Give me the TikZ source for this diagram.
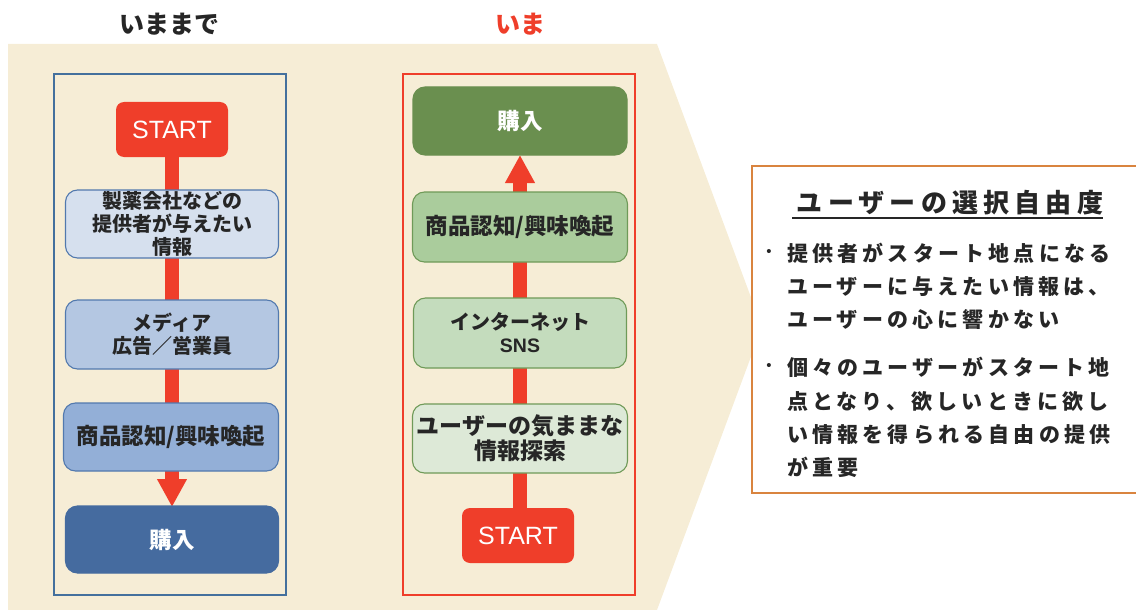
\documentclass[tikz,border=0pt]{standalone}
\usepackage{fontspec}
\setmainfont{Noto Sans CJK JP}
\newfontfamily\jpls{Noto Sans CJK JP}[LetterSpace=20]
\newfontfamily\lat{Liberation Sans}
\usetikzlibrary{arrows.meta}
\definecolor{cred}{HTML}{EF3E2A}
\definecolor{beige}{HTML}{F6EDD6}
\definecolor{frameblue}{HTML}{44709D}
\definecolor{bstroke}{HTML}{5279AE}
\definecolor{bA}{HTML}{D6E0EE}
\definecolor{bB}{HTML}{B4C7E2}
\definecolor{bC}{HTML}{93AFD7}
\definecolor{bD}{HTML}{456B9F}
\definecolor{gstroke}{HTML}{6F9A58}
\definecolor{gA}{HTML}{6A8F4F}
\definecolor{gB}{HTML}{AACC9C}
\definecolor{gC}{HTML}{C4DCBD}
\definecolor{gD}{HTML}{DDE9D7}
\definecolor{orng}{HTML}{D9843F}
\definecolor{txt}{HTML}{262626}
\pgfdeclarelayer{back}
\pgfdeclarelayer{mid}
\pgfsetlayers{back,mid,main}
\begin{document}
\begin{tikzpicture}[x=1pt,y=-1pt,
  every node/.style={outer sep=0pt, inner sep=0pt, text=txt},
  frame/.style={draw, line width=1.6pt, minimum width=232, minimum height=521},
  startbox/.style={fill=cred, rounded corners=8pt, minimum width=112, minimum height=55,
    text=white, font=\lat\fontsize{25}{28}\selectfont},
  flowbox/.style={draw, line width=1.1pt, rounded corners=12pt, align=center,
    font=\fontsize{20}{23}\selectfont\bfseries},
  bigtext/.style={font=\fontsize{22.5}{26}\selectfont\bfseries},
  shaft/.style={draw=cred, line width=14pt},
  headarrow/.style={draw=cred, line width=14pt, -{Triangle[length=28pt,width=28pt]}},
  bodyline/.style={anchor=west, font=\jpls\fontsize{21}{25}\selectfont\bfseries},
  bul/.style={font=\lat\fontsize{15}{16}\selectfont}
]
\useasboundingbox (0,0) rectangle (1136,610);
\begin{pgfonlayer}{back}
\fill[beige] (8,44) -- (657,44) -- (762,327) -- (657,610) -- (8,610) -- cycle;
\end{pgfonlayer}

% headings
\node[font=\fontsize{25}{28}\selectfont\bfseries] (hL) at (169,24) {いままで};
\node[font=\fontsize{25}{28}\selectfont\bfseries, text=cred] (hR) at (520,24) {いま};

% left flow
\node[frame, draw=frameblue] (frameL) at (170,334.5) {};
\node[startbox] (s1) at (172,129.5) {START};
\node[flowbox, draw=bstroke, fill=bA, minimum width=213, minimum height=68] (b1) at (172,224) {製薬会社などの\\提供者が与えたい\\情報};
\node[flowbox, draw=bstroke, fill=bB, minimum width=213, minimum height=69] (b2) at (172,334.5) {メディア\\広告／営業員};
\node[flowbox, bigtext, draw=bstroke, fill=bC, minimum width=215, minimum height=68] (b3) at (171,437) {商品認知/興味喚起};
\node[flowbox, bigtext, draw=bD, fill=bD, minimum width=213, minimum height=67, text=white] (b4) at (172,539.5) {購入};

% right flow
\node[frame, draw=cred] (frameR) at (519,334.5) {};
\node[flowbox, bigtext, draw=gA, fill=gA, minimum width=214, minimum height=68, text=white] (r0) at (520,121) {購入};
\node[flowbox, bigtext, draw=gstroke, fill=gB, minimum width=215, minimum height=70] (r1) at (520,227) {商品認知/興味喚起};
\node[flowbox, draw=gstroke, fill=gC, minimum width=213, minimum height=70] (r2) at (520,333) {インターネット\\{\lat\fontsize{19.5}{23}\selectfont\bfseries SNS}};
\node[flowbox, draw=gstroke, fill=gD, minimum width=215, minimum height=69, font=\fontsize{23}{25}\selectfont\bfseries] (r3) at (520,438.5) {ユーザーの気ままな\\情報探索};
\node[startbox] (s2) at (518,535.5) {START};

\begin{pgfonlayer}{mid}
\draw[shaft] (s1.south) -- (s1.south |- b3.south);
\draw[headarrow] (s1.south |- b3.south) -- ([yshift=-1pt]s1.south |- b4.north);
\draw[shaft] (s2.north) -- (s2.north -| r1.north) -- (r1.north);
\draw[headarrow] (r1.north) -- (r0.south);
\end{pgfonlayer}

% right text box
\node[draw=orng, line width=1.2pt, fill=white, minimum width=385, minimum height=327] (info) at (944.5,329.5) {};
\node[font=\jpls\fontsize{26}{30}\selectfont\bfseries] (title) at (950,203) {ユーザーの選択自由度};
\draw[line width=1.3pt, txt] (792,218) coordinate (ulA) -- (1103,218) coordinate (ulB);

\node[bul] (d1) at (769,253) {•};
\node[bodyline] (l1) at (787,253) {提供者がスタート地点になる};
\node[bodyline] (l2) at (787,287) {ユーザーに与えたい情報は、};
\node[bodyline] (l3) at (787,320) {ユーザーの心に響かない};
\node[bul] (d2) at (769,367) {•};
\node[bodyline] (l4) at (787,367) {個々のユーザーがスタート地};
\node[bodyline] (l5) at (787,402) {点となり、欲しいときに欲し};
\node[bodyline] (l6) at (787,435) {い情報を得られる自由の提供};
\node[bodyline] (l7) at (787,467) {が重要};
\end{tikzpicture}
\end{document}
